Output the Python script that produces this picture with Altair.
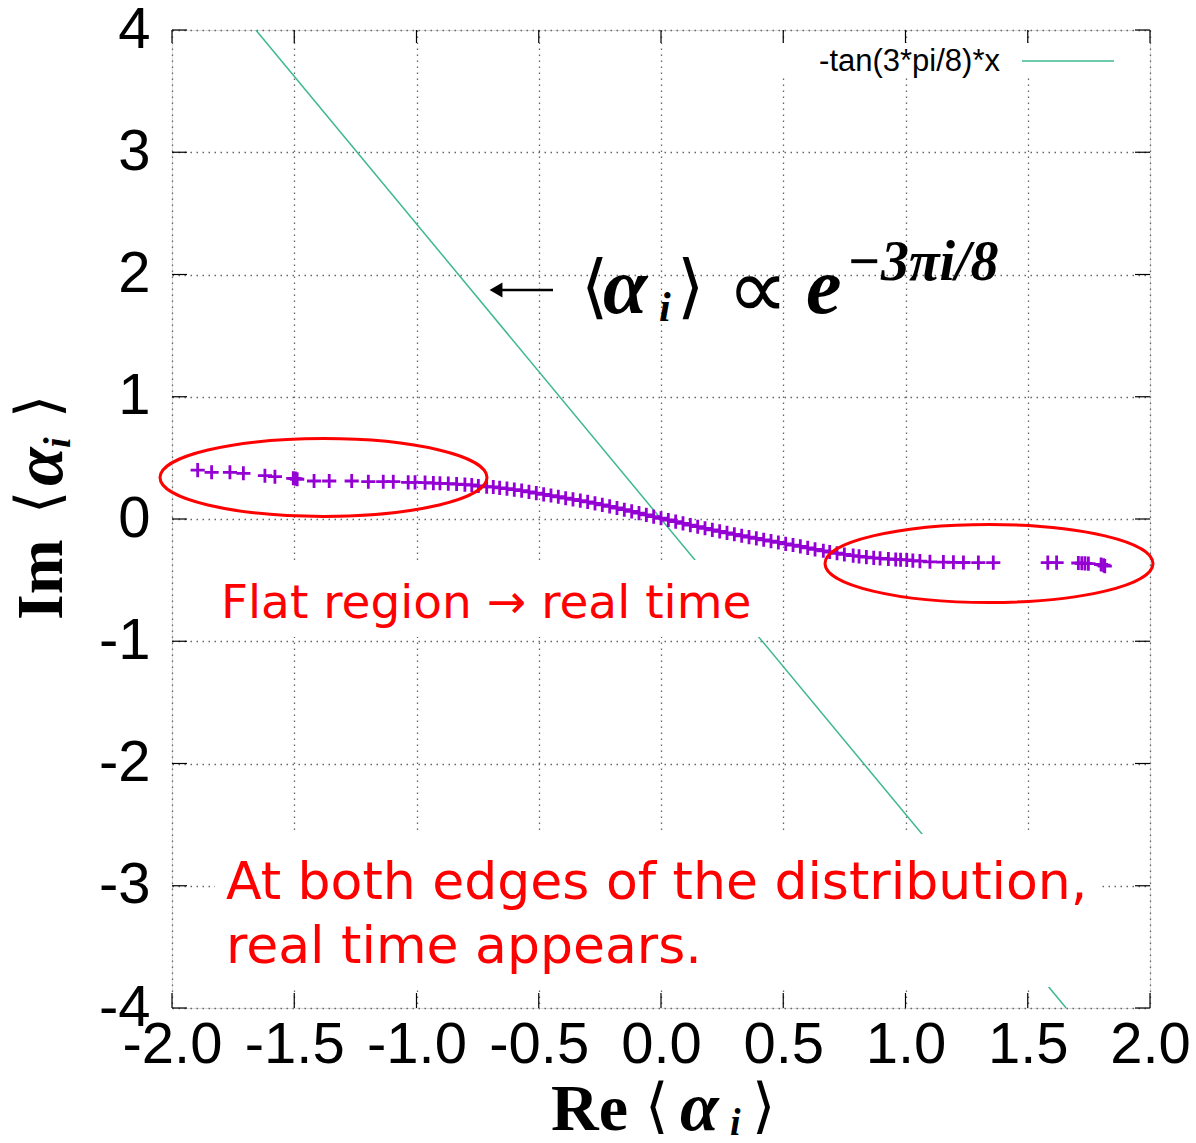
import altair as alt
import pandas as pd

# ---------------- data ----------------
left_x = [-1.895, -1.838, -1.763, -1.708, -1.620, -1.579, -1.504, -1.495, -1.488,
          -1.419, -1.357, -1.265, -1.197, -1.136, -1.095, -1.034, -1.006, -0.965,
          -0.931, -0.904, -0.870, -0.836, -0.802, -0.774, -0.747, -0.713, -0.686]
left_y = [0.400, 0.382, 0.382, 0.374, 0.354, 0.346, 0.333, 0.330, 0.325,
          0.311, 0.311, 0.311, 0.305, 0.305, 0.305, 0.300, 0.300, 0.297,
          0.294, 0.292, 0.289, 0.286, 0.281, 0.278, 0.270, 0.264, 0.262]
mid_x = [-0.66, -0.63, -0.60, -0.57, -0.54, -0.51, -0.48, -0.45, -0.42, -0.39, -0.36,
         -0.33, -0.30, -0.27, -0.24, -0.21, -0.18, -0.15, -0.12, -0.09, -0.06, -0.03,
         0.00, 0.03, 0.06, 0.09, 0.12, 0.15, 0.18, 0.21, 0.24, 0.27, 0.30, 0.33,
         0.36, 0.39, 0.42, 0.45, 0.48, 0.51, 0.54, 0.57, 0.60, 0.63]
mid_y = [0.255, 0.248, 0.240, 0.232, 0.222, 0.212, 0.202, 0.192, 0.182, 0.170, 0.160,
         0.150, 0.140, 0.128, 0.116, 0.103, 0.090, 0.076, 0.062, 0.048, 0.034, 0.020,
         0.006, -0.008, -0.022, -0.036, -0.050, -0.063, -0.076, -0.089, -0.101, -0.113,
         -0.125, -0.137, -0.148, -0.159, -0.170, -0.181, -0.192, -0.203, -0.213, -0.224,
         -0.236, -0.248]
right_x = [0.664, 0.69, 0.72, 0.75, 0.786, 0.81, 0.84, 0.87, 0.896, 0.93, 0.96, 0.98,
           1.005, 1.03, 1.059, 1.10, 1.155, 1.196, 1.237, 1.298, 1.359, 1.582, 1.618,
           1.707, 1.721, 1.734, 1.748, 1.80, 1.81, 1.815]
right_y = [-0.260, -0.270, -0.280, -0.290, -0.300, -0.306, -0.312, -0.318, -0.322,
           -0.327, -0.331, -0.333, -0.335, -0.340, -0.345, -0.350, -0.352, -0.354,
           -0.356, -0.357, -0.357, -0.357, -0.357, -0.360, -0.362, -0.363, -0.365,
           -0.372, -0.378, -0.385]

# straight line -tan(3*pi/8)*x, end points where it meets the frame
line_x = [-1.657, 1.657]
line_y = [4.0, -4.0]

x_ticks = [-2.0, -1.5, -1.0, -0.5, 0.0, 0.5, 1.0, 1.5, 2.0]
y_ticks = [-4, -3, -2, -1, 0, 1, 2, 3, 4]

legend_label = "-tan(3*pi/8)*x"
note1 = "Flat region \u2192 real time"
note2a = "At both edges of the distribution,"
note2b = "real time appears."

# ---------------- layout ----------------
W, H = 978, 978
OX, OY = 172, 30  # plot-area origin in the page

PURPLE = "#9400D3"
GREEN = "#3cb890"
RED = "#ff0000"

pts = pd.DataFrame({"re": left_x + mid_x + right_x, "im": left_y + mid_y + right_y})
line_df = pd.DataFrame({"re": line_x, "im": line_y})

xs = alt.Scale(domain=[-2, 2], nice=False, zero=False)
ys = alt.Scale(domain=[-4, 4], nice=False, zero=False)

grid_style = dict(grid=True, gridDash=[1.5, 4.5], gridColor="#666", gridWidth=1.3)
x_axis = alt.Axis(values=x_ticks, title=None, ticks=False, domain=False,
                  labelExpr="datum.value < 0 ? '-' + format(-datum.value, '.1f') : format(datum.value, '.1f')",
                  labelFont="Liberation Sans", labelFontSize=58, labelColor="black",
                  labelPadding=8, labelFlush=False, labelOverlap=False, **grid_style)
y_axis = alt.Axis(values=y_ticks, title=None, ticks=False, domain=False,
                  labelExpr="datum.value < 0 ? '-' + format(-datum.value, 'd') : format(datum.value, 'd')",
                  labelFont="Liberation Sans", labelFontSize=58, labelColor="black",
                  labelPadding=22, labelFlush=False, labelOverlap=False, **grid_style)

base_line = alt.Chart(line_df).mark_line(color=GREEN, strokeWidth=1.5, clip=True).encode(
    x=alt.X("re:Q", scale=xs, axis=x_axis),
    y=alt.Y("im:Q", scale=ys, axis=y_axis),
)


def box(px1, px2, py1, py2):
    return alt.Chart(pd.DataFrame({"k": [0]})).mark_rect(color="white").encode(
        x=alt.value(px1 - OX), x2=alt.value(px2 - OX),
        y=alt.value(py1 - OY), y2=alt.value(py2 - OY))


boxes = [box(215, 771, 560, 637), box(215, 1100, 834, 987), box(775, 1148, 43, 77)]

cross = "M -1 0 L 1 0 M 0 -1 L 0 1"
points = alt.Chart(pts).mark_point(shape=cross, size=200, color=PURPLE, strokeWidth=2.8,
                                   filled=False, opacity=1).encode(
    x=alt.X("re:Q", scale=xs), y=alt.Y("im:Q", scale=ys))

ell_path = "M -1 0 A 1 0.238 0 1 1 1 0 A 1 0.238 0 1 1 -1 0 Z"


def ellipse(cx, cy, rx):
    return alt.Chart(pd.DataFrame({"k": [0]})).mark_point(
        shape=ell_path, size=(2 * rx) ** 2, color=RED, strokeWidth=3, filled=False,
        opacity=1).encode(x=alt.value(cx - OX), y=alt.value(cy - OY))


ellipses = [ellipse(323.5, 477.5, 163.5), ellipse(989, 563.5, 164)]


def label(text, px, py, size, font, weight="normal", style="normal", angle=0,
          color="black", align="left", baseline="alphabetic"):
    return alt.Chart(pd.DataFrame({"t": [text]})).mark_text(
        align=align, baseline=baseline, fontSize=size, font=font, fontWeight=weight,
        fontStyle=style, angle=angle, color=color).encode(
        x=alt.value(px - OX), y=alt.value(py - OY), text="t:N")


SERIF = "Liberation Serif"
texts = [
    label(note1, 221, 618, 47, "DejaVu Sans", color=RED),
    label(note2a, 226, 899, 52, "DejaVu Sans", color=RED),
    label(note2b, 226, 963, 52, "DejaVu Sans", color=RED),
    # formula  <- <alpha_i> ∝ e^{-3 pi i/8}
    label("\u27e8", 581, 310, 70, "DejaVu Sans"),
    label("\u03b1", 603, 313, 80, SERIF, "bold", "italic"),
    label("i", 659, 321, 42, SERIF, "bold", "italic"),
    label("\u27e9", 677, 310, 70, "DejaVu Sans"),
    label("\u221d", 727, 318, 86, "DejaVu Sans"),
    label("e", 806, 313, 80, SERIF, "bold", "italic"),
    label("\u22123\u03c0i/8", 847, 280, 56, SERIF, "bold", "italic"),
    # legend
    label(legend_label, 1000, 62, 31, "Liberation Sans", align="right", baseline="middle"),
    # x title
    label("Re", 551, 1130, 66, SERIF, "bold"),
    label("\u27e8", 645, 1126, 60, "DejaVu Sans"),
    label("\u03b1", 680, 1130, 70, SERIF, "bold", "italic"),
    label("i", 730, 1135, 38, SERIF, "bold", "italic"),
    label("\u27e9", 752, 1126, 60, "DejaVu Sans"),
    # y title (rotated)
    label("Im", 62, 620, 66, SERIF, "bold", angle=270),
    label("\u27e8", 58, 514, 60, "DejaVu Sans", angle=270),
    label("\u03b1", 62, 486, 70, SERIF, "bold", "italic", angle=270),
    label("i", 70, 448, 38, SERIF, "bold", "italic", angle=270),
    label("\u27e9", 58, 418, 60, "DejaVu Sans", angle=270),
]

one = pd.DataFrame({"k": [0]})
arrow_shaft = alt.Chart(one).mark_rule(color="black", strokeWidth=2.5).encode(
    x=alt.value(500 - OX), x2=alt.value(553 - OX), y=alt.value(290 - OY))
arrow_head = alt.Chart(one).mark_point(shape="triangle-left", size=220, filled=True,
                                       color="black", opacity=1).encode(
    x=alt.value(496 - OX), y=alt.value(290 - OY))
legend_line = alt.Chart(one).mark_rule(color=GREEN, strokeWidth=1.5).encode(
    x=alt.value(1022 - OX), x2=alt.value(1114 - OX), y=alt.value(61 - OY))

xt = pd.DataFrame({"re": x_ticks})
yt = pd.DataFrame({"im": y_ticks})
tick_layers = [
    alt.Chart(xt).mark_rule(color="black", strokeWidth=1.2).encode(
        x=alt.X("re:Q", scale=xs), y=alt.value(H), y2=alt.value(H - 15)),
    alt.Chart(xt).mark_rule(color="black", strokeWidth=1.2).encode(
        x=alt.X("re:Q", scale=xs), y=alt.value(0), y2=alt.value(13)),
    alt.Chart(yt).mark_rule(color="black", strokeWidth=1.2).encode(
        y=alt.Y("im:Q", scale=ys), x=alt.value(0), x2=alt.value(15)),
    alt.Chart(yt).mark_rule(color="black", strokeWidth=1.2).encode(
        y=alt.Y("im:Q", scale=ys), x=alt.value(W), x2=alt.value(W - 15)),
]

chart = alt.layer(
    base_line, *boxes, points, *ellipses, arrow_shaft, arrow_head, legend_line,
    *tick_layers, *texts
).properties(
    width=W, height=H,
    autosize=alt.AutoSizeParams(type="none"),
    padding={"left": OX, "top": OY, "right": 1196 - OX - W, "bottom": 1143 - OY - H},
).configure_view(
    stroke="black", strokeWidth=2.5
).configure(background="white")

chart.save("out.html", embed_options={"renderer": "svg", "actions": False})
